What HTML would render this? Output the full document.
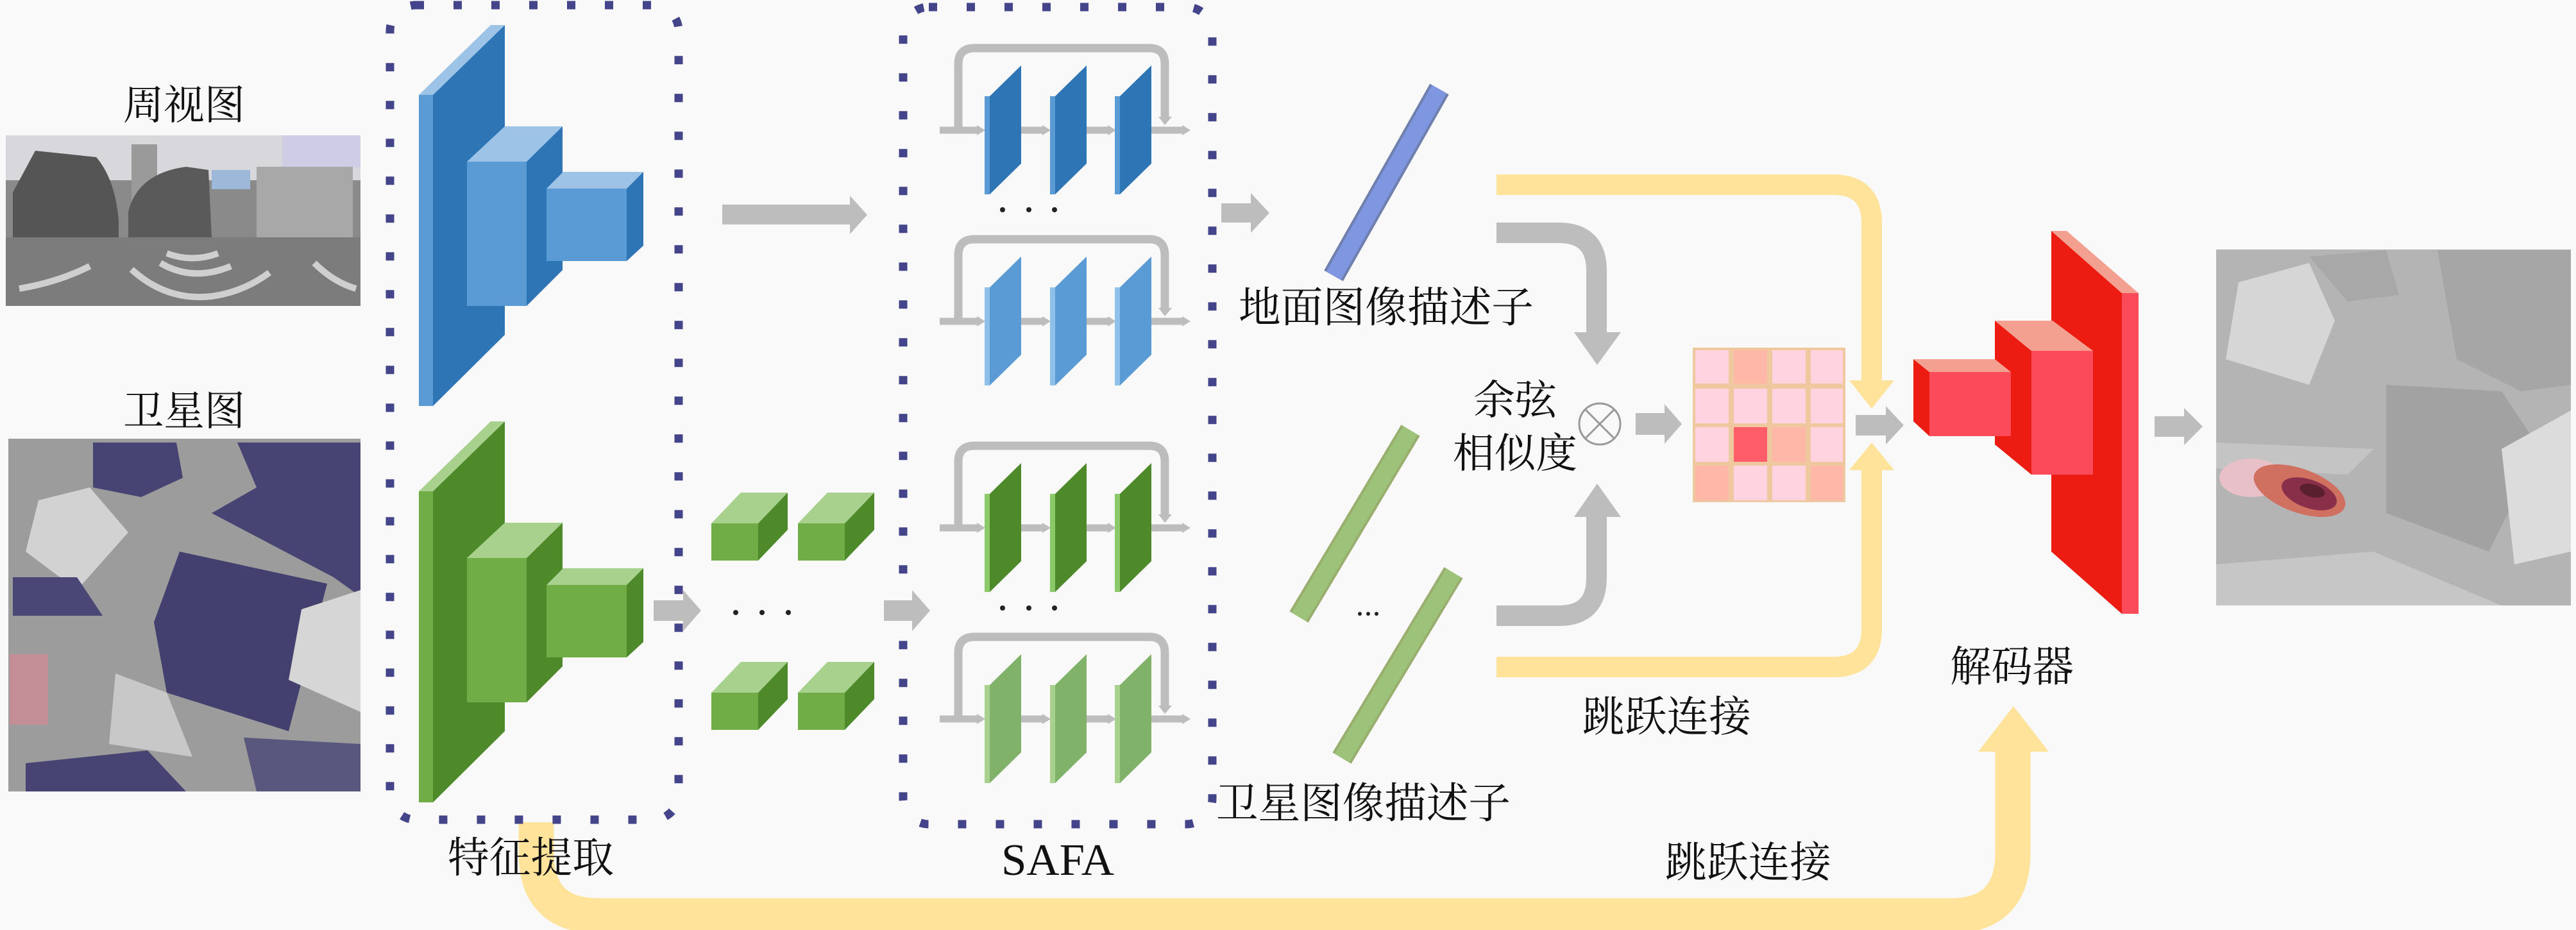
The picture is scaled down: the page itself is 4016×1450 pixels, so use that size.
<!DOCTYPE html>
<html><head><meta charset="utf-8">
<style>
html,body{margin:0;padding:0;background:#f9f9f9;}
svg{display:block;}
text{font-family:"Liberation Serif","Noto Serif CJK SC",serif;fill:#111;}
</style></head>
<body>
<svg width="4016" height="1450" viewBox="0 0 4016 1450" xmlns="http://www.w3.org/2000/svg">
<rect width="4016" height="1450" fill="#f9f9f9"/>

<!-- yellow skip connections (behind) -->
<g fill="none" stroke="#ffe39a" stroke-linecap="butt">
  <path d="M2333,288 H2858 Q2918,288 2918,348 V600" stroke-width="32"/>
  <path d="M2333,1040 H2858 Q2918,1040 2918,980 V728" stroke-width="32"/>
  <path d="M836,1282 V1330 Q836,1428 934,1428 H3040 Q3138,1428 3138,1330 V1165" stroke-width="55"/>
</g>
<g fill="#ffe39a">
  <polygon points="2883,593 2953,593 2918,637"/>
  <polygon points="2883,733 2953,733 2918,690"/>
  <polygon points="3084,1172 3194,1172 3139,1101"/>
</g>

<!-- panorama -->
<g>
  <rect x="9" y="211" width="553" height="266" fill="#8a8a8a"/>
  <rect x="9" y="211" width="553" height="70" fill="#d8d8dc"/>
  <rect x="440" y="211" width="122" height="50" fill="#cfcde6"/>
  <rect x="330" y="265" width="60" height="30" fill="#9db8d8"/>
  <path d="M55,235 L150,245 Q180,280 185,345 L185,380 L20,380 L20,300 Z" fill="#555"/>
  <rect x="205" y="225" width="40" height="130" fill="#9a9a9a"/>
  <path d="M200,330 Q215,270 290,260 L325,265 L330,370 L200,370 Z" fill="#5a5a5a"/>
  <rect x="400" y="260" width="150" height="110" fill="#a8a8a8"/>
  <rect x="9" y="370" width="553" height="107" fill="#7c7c7c"/>
  <g fill="none" stroke="#cfcfcf" stroke-width="10">
    <path d="M30,450 Q90,440 140,415"/>
    <path d="M205,420 Q260,470 330,462 Q380,455 420,425"/>
    <path d="M250,410 Q300,440 360,415"/>
    <path d="M260,395 Q300,410 340,395"/>
    <path d="M490,410 Q520,440 555,450"/>
  </g>
</g>

<!-- satellite -->
<g>
  <rect x="13" y="684" width="549" height="550" fill="#9c9c9c"/>
  <polygon points="145,690 275,690 285,745 220,775 145,760" fill="#474373"/>
  <polygon points="370,690 562,690 562,930 520,900 330,800 400,760" fill="#474373"/>
  <polygon points="60,780 140,760 200,830 120,920 40,860" fill="#d2d2d2"/>
  <polygon points="280,860 510,910 450,1140 260,1080 240,970" fill="#433f6e"/>
  <polygon points="470,950 562,920 562,1110 450,1060" fill="#d6d6d6"/>
  <polygon points="20,900 120,900 160,960 20,960" fill="#4a4676"/>
  <rect x="15" y="1020" width="60" height="110" fill="#c48e96"/>
  <polygon points="40,1190 230,1170 290,1234 40,1234" fill="#474373"/>
  <polygon points="380,1150 562,1160 562,1234 400,1234" fill="#5a577f"/>
  <polygon points="180,1050 260,1080 300,1180 170,1160" fill="#c8c8c8"/>
</g>

<!-- dotted boxes -->
<g fill="none" stroke="#44448a" stroke-width="13" stroke-dasharray="13 46">
  <rect x="608" y="8" width="450" height="1270" rx="40"/>
  <rect x="1408" y="11" width="482" height="1274" rx="40"/>
</g>

<!-- blue encoder -->
<g>
  <polygon points="675,148 787,39 787,522 675,633" fill="#2e75b6"/>
  <polygon points="653,148 765,39 787,39 675,148" fill="#9dc3e6"/>
  <rect x="653" y="148" width="22" height="485" fill="#5b9bd5"/>
  <polygon points="728,252 787,197 877,197 821,252" fill="#9dc3e6"/>
  <polygon points="821,252 877,197 877,421 821,477" fill="#2e75b6"/>
  <rect x="728" y="252" width="93" height="225" fill="#5b9bd5"/>
  <polygon points="852,294 878,268 1003,268 977,294" fill="#9dc3e6"/>
  <polygon points="977,294 1003,268 1003,383 977,407" fill="#2e75b6"/>
  <rect x="852" y="294" width="125" height="113" fill="#5b9bd5"/>
</g>
<!-- green encoder -->
<g transform="translate(0,618)">
  <polygon points="675,148 787,39 787,522 675,633" fill="#4e8a2a"/>
  <polygon points="653,148 765,39 787,39 675,148" fill="#a9d18e"/>
  <rect x="653" y="148" width="22" height="485" fill="#70ad47"/>
  <polygon points="728,252 787,197 877,197 821,252" fill="#a9d18e"/>
  <polygon points="821,252 877,197 877,421 821,477" fill="#4e8a2a"/>
  <rect x="728" y="252" width="93" height="225" fill="#70ad47"/>
  <polygon points="852,294 878,268 1003,268 977,294" fill="#a9d18e"/>
  <polygon points="977,294 1003,268 1003,383 977,407" fill="#4e8a2a"/>
  <rect x="852" y="294" width="125" height="113" fill="#70ad47"/>
</g>

<!-- mini cubes -->
<defs>
  <g id="cube">
    <polygon points="1109,816 1155,768 1228,768 1182,816" fill="#a9d18e"/>
    <polygon points="1182,816 1228,768 1228,826 1182,874" fill="#4e8a2a"/>
    <rect x="1109" y="816" width="73" height="58" fill="#70ad47"/>
  </g>
  <g id="slab">
    <polygon points="1543,150 1592,102 1592,255 1543,303"/>
  </g>
</defs>
<use href="#cube"/>
<use href="#cube" transform="translate(135,0)"/>
<use href="#cube" transform="translate(0,264)"/>
<use href="#cube" transform="translate(135,264)"/>
<g fill="#222">
  <circle cx="1147" cy="955" r="4"/><circle cx="1188" cy="955" r="4"/><circle cx="1229" cy="955" r="4"/>
</g>

<!-- gray straight arrows -->
<g fill="#bdbdbd">
  <polygon points="1126,319 1325,319 1325,305 1352,335 1325,365 1325,350 1126,350"/>
  <polygon points="1019,936 1065,936 1065,920 1093,952 1065,984 1065,968 1019,968"/>
  <polygon points="1378,936 1422,936 1422,920 1450,952 1422,984 1422,968 1378,968"/>
  <polygon points="1904,317 1950,317 1950,301 1979,332 1950,363 1950,347 1904,347"/>
  <polygon points="2550,644 2595,644 2595,630 2622,661 2595,692 2595,678 2550,678"/>
  <polygon points="2893,647 2940,647 2940,633 2968,663 2940,693 2940,679 2893,679"/>
  <polygon points="3359,649 3405,649 3405,636 3434,665 3405,694 3405,681 3359,681"/>
</g>

<!-- SAFA rows -->
<g id="row1">
  <path d="M1494,203 V100 Q1494,75 1519,75 H1792 Q1816,75 1816,100 V185" fill="none" stroke="#bdbdbd" stroke-width="13"/>
  <polygon points="1806,182 1827,182 1816,195" fill="#bdbdbd"/>
</g>
<g fill="none" stroke="#bdbdbd" stroke-width="11">
  <path d="M1465,203 H1525"/><path d="M1548,203 H1627"/><path d="M1650,203 H1729"/><path d="M1752,203 H1845"/>
  <path d="M1465,501 H1525"/><path d="M1548,501 H1627"/><path d="M1650,501 H1729"/><path d="M1752,501 H1845"/>
  <path d="M1465,823 H1525"/><path d="M1548,823 H1627"/><path d="M1650,823 H1729"/><path d="M1752,823 H1845"/>
  <path d="M1465,1121 H1525"/><path d="M1548,1121 H1627"/><path d="M1650,1121 H1729"/><path d="M1752,1121 H1845"/>
</g>
<use href="#row1" transform="translate(0,298)"/>
<use href="#row1" transform="translate(0,620)"/>
<use href="#row1" transform="translate(0,918)"/>
<g fill="#bdbdbd">
  <g id="heads">
    <polygon points="1523,195 1536,203 1523,211"/><polygon points="1625,195 1638,203 1625,211"/><polygon points="1727,195 1740,203 1727,211"/><polygon points="1843,195 1856,203 1843,211"/>
  </g>
  <use href="#heads" transform="translate(0,298)"/>
  <use href="#heads" transform="translate(0,620)"/>
  <use href="#heads" transform="translate(0,918)"/>
</g>
<!-- slabs -->
<g>
  <g fill="#2e75b6"><use href="#slab"/><use href="#slab" x="102"/><use href="#slab" x="203"/></g>
  <g fill="#5b9bd5"><rect x="1535" y="150" width="8" height="153"/><rect x="1637" y="150" width="8" height="153"/><rect x="1738" y="150" width="8" height="153"/></g>
  <g transform="translate(0,298)">
    <g fill="#5b9bd5"><use href="#slab"/><use href="#slab" x="102"/><use href="#slab" x="203"/></g>
    <g fill="#8fc0ea"><rect x="1535" y="150" width="8" height="153"/><rect x="1637" y="150" width="8" height="153"/><rect x="1738" y="150" width="8" height="153"/></g>
  </g>
  <g transform="translate(0,620)">
    <g fill="#4e8a2a"><use href="#slab"/><use href="#slab" x="102"/><use href="#slab" x="203"/></g>
    <g fill="#8cc96a"><rect x="1535" y="150" width="8" height="153"/><rect x="1637" y="150" width="8" height="153"/><rect x="1738" y="150" width="8" height="153"/></g>
  </g>
  <g transform="translate(0,918)">
    <g fill="#80b26a"><use href="#slab"/><use href="#slab" x="102"/><use href="#slab" x="203"/></g>
    <g fill="#a9d18e"><rect x="1535" y="150" width="8" height="153"/><rect x="1637" y="150" width="8" height="153"/><rect x="1738" y="150" width="8" height="153"/></g>
  </g>
</g>
<g fill="#222">
  <circle cx="1563" cy="327" r="4"/><circle cx="1604" cy="327" r="4"/><circle cx="1644" cy="327" r="4"/>
  <circle cx="1563" cy="948" r="4"/><circle cx="1604" cy="948" r="4"/><circle cx="1644" cy="948" r="4"/>
</g>

<!-- descriptor bars -->
<g stroke-linecap="butt">
  <line x1="2079" y1="430" x2="2244" y2="139" stroke="#6f7fae" stroke-width="34"/>
  <line x1="2079" y1="430" x2="2244" y2="139" stroke="#7f96e0" stroke-width="26"/>
  <line x1="2025" y1="962" x2="2199" y2="671" stroke="#9aae70" stroke-width="34"/>
  <line x1="2025" y1="962" x2="2199" y2="671" stroke="#9dc37a" stroke-width="26"/>
  <line x1="2092" y1="1182" x2="2266" y2="893" stroke="#9aae70" stroke-width="34"/>
  <line x1="2092" y1="1182" x2="2266" y2="893" stroke="#9dc37a" stroke-width="26"/>
</g>
<g fill="#222"><circle cx="2120" cy="957" r="3"/><circle cx="2133" cy="957" r="3"/><circle cx="2146" cy="957" r="3"/></g>

<!-- gray curved arrows -->
<g fill="none" stroke="#bdbdbd" stroke-width="32">
  <path d="M2333,363 H2430 Q2489,363 2489,422 V520"/>
  <path d="M2333,960 H2430 Q2489,960 2489,901 V805"/>
</g>
<g fill="#bdbdbd">
  <polygon points="2454,518 2527,518 2490,569"/>
  <polygon points="2454,806 2527,806 2490,754"/>
</g>
<circle cx="2494" cy="661" r="32" fill="none" stroke="#999" stroke-width="3"/>
<line x1="2471" y1="638" x2="2517" y2="684" stroke="#999" stroke-width="3"/>
<line x1="2517" y1="638" x2="2471" y2="684" stroke="#999" stroke-width="3"/>

<!-- similarity grid -->
<rect x="2639" y="542" width="238" height="241" fill="#f0c8a0"/>
<g>
  <rect x="2643" y="546" width="52" height="52" fill="#ffd4e0"/>
  <rect x="2703" y="546" width="52" height="52" fill="#ffb8a8"/>
  <rect x="2763" y="546" width="52" height="52" fill="#ffd4e0"/>
  <rect x="2823" y="546" width="50" height="52" fill="#ffd4e0"/>
  <rect x="2643" y="606" width="52" height="54" fill="#ffd4e0"/>
  <rect x="2703" y="606" width="52" height="54" fill="#ffd4e0"/>
  <rect x="2763" y="606" width="52" height="54" fill="#ffd4e0"/>
  <rect x="2823" y="606" width="50" height="54" fill="#ffd4e0"/>
  <rect x="2643" y="666" width="52" height="54" fill="#ffd4e0"/>
  <rect x="2703" y="666" width="52" height="54" fill="#ff5d6a"/>
  <rect x="2763" y="666" width="52" height="54" fill="#ffb8a8"/>
  <rect x="2823" y="666" width="50" height="54" fill="#ffd4e0"/>
  <rect x="2643" y="726" width="52" height="54" fill="#ffb8a8"/>
  <rect x="2703" y="726" width="52" height="54" fill="#ffd4e0"/>
  <rect x="2763" y="726" width="52" height="54" fill="#ffd4e0"/>
  <rect x="2823" y="726" width="50" height="54" fill="#ffb8a8"/>
</g>

<!-- decoder -->
<g>
  <polygon points="3198,360 3308,457 3308,957 3198,860" fill="#ec1c12"/>
  <polygon points="3198,360 3222,360 3334,457 3308,457" fill="#f4a090"/>
  <rect x="3308" y="457" width="26" height="500" fill="#fb4a5a"/>
  <polygon points="3110,500 3167,547 3167,740 3110,693" fill="#ec1c12"/>
  <polygon points="3110,500 3200,500 3263,547 3167,547" fill="#f4a090"/>
  <rect x="3167" y="547" width="96" height="193" fill="#fb4a5a"/>
  <polygon points="2983,560 3008,580 3008,680 2983,657" fill="#ec1c12"/>
  <polygon points="2983,560 3110,560 3135,580 3008,580" fill="#f4a090"/>
  <rect x="3008" y="580" width="127" height="100" fill="#fb4a5a"/>
</g>

<!-- result image -->
<g>
  <rect x="3455" y="389" width="553" height="555" fill="#b4b4b4"/>
  <polygon points="3490,440 3600,410 3640,500 3600,600 3470,560" fill="#d6d6d6"/>
  <polygon points="3600,400 3720,390 3740,460 3660,470" fill="#a8a8a8"/>
  <polygon points="3800,390 4008,390 4008,600 3930,610 3830,560" fill="#a6a6a6"/>
  <polygon points="3720,600 3900,610 3960,700 3880,860 3720,800" fill="#a2a2a2"/>
  <polygon points="3900,700 4008,640 4008,860 3920,880" fill="#dcdcdc"/>
  <polygon points="3455,880 3700,860 3900,944 3455,944" fill="#c6c6c6"/>
  <polygon points="3455,690 3700,700 3660,740 3455,730" fill="#c4c4c4"/>
  <ellipse cx="3510" cy="745" rx="50" ry="30" fill="#e8c0c8"/>
  <ellipse cx="3585" cy="765" rx="75" ry="34" fill="#d07060" transform="rotate(20 3585 765)"/>
  <ellipse cx="3600" cy="770" rx="45" ry="22" fill="#8a2f4a" transform="rotate(20 3600 770)"/>
  <ellipse cx="3605" cy="765" rx="20" ry="10" fill="#5a2030" transform="rotate(15 3605 765)"/>
</g>

<!-- text -->
<text x="287" y="186" font-size="64" text-anchor="middle" textLength="190" lengthAdjust="spacingAndGlyphs">周视图</text>
<text x="287" y="663" font-size="64" text-anchor="middle" textLength="190" lengthAdjust="spacingAndGlyphs">卫星图</text>
<text x="698" y="1360" font-size="66" textLength="259" lengthAdjust="spacingAndGlyphs">特征提取</text>
<text x="1561" y="1364" font-size="70" textLength="176" lengthAdjust="spacingAndGlyphs">SAFA</text>
<text x="1931" y="502" font-size="66" textLength="460" lengthAdjust="spacingAndGlyphs">地面图像描述子</text>
<text x="1896" y="1275" font-size="66" textLength="459" lengthAdjust="spacingAndGlyphs">卫星图像描述子</text>
<text x="2362" y="646" font-size="64" text-anchor="middle" textLength="130" lengthAdjust="spacingAndGlyphs">余弦</text>
<text x="2362" y="729" font-size="64" text-anchor="middle" textLength="194" lengthAdjust="spacingAndGlyphs">相似度</text>
<text x="2467" y="1140" font-size="66" textLength="263" lengthAdjust="spacingAndGlyphs">跳跃连接</text>
<text x="2596" y="1367" font-size="66" textLength="259" lengthAdjust="spacingAndGlyphs">跳跃连接</text>
<text x="3040" y="1062" font-size="66" textLength="193" lengthAdjust="spacingAndGlyphs">解码器</text>
</svg>
</body></html>
